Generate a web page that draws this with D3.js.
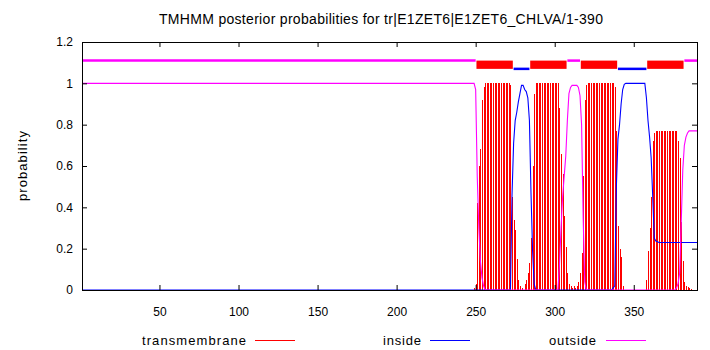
<!DOCTYPE html>
<html>
<head>
<meta charset="utf-8">
<script src="https://cdn.jsdelivr.net/npm/d3@7"></script>
<style>
  body { margin: 0; background: #fff; }
  text { font-family: "Liberation Sans", Arial, sans-serif; fill: #000; }
</style>
</head>
<body>
<svg id="chart" width="710" height="350">
  <g id="bars"></g>
  <g id="lines"></g>
  <g id="topology"></g>
  <g id="frame"></g>
  <g id="labels"></g>
  <g id="legend"></g>
</svg>
<script>
const title = "TMHMM posterior probabilities for tr|E1ZET6|E1ZET6_CHLVA/1-390"
const seqRange = [1, 390]
const xTicks = [50, 100, 150, 200, 250, 300, 350]
const yTicks = [0, 0.2, 0.4, 0.6, 0.8, 1, 1.2]

// residues 1..245 are flat (outside = 1, inside = 0, tm = 0)
const leadOutside = 1
const leadInside = 0
const firstRes = 246

// per residue, 246 .. 390
const outsideProb = [
  1, 1, 1, 1, 0.97, 0.55, 0.3, 0.14, 0.06, 0.02,
  0, 0, 0, 0, 0, 0, 0, 0, 0, 0,
  0, 0, 0, 0, 0, 0, 0, 0, 0, 0,
  0, 0, 0, 0, 0, 0, 0, 0, 0, 0,
  0, 0, 0, 0, 0, 0, 0, 0, 0, 0,
  0, 0, 0, 0, 0, 0, 0, 0.12, 0.3, 0.45,
  0.55, 0.65, 0.82, 0.95, 0.98, 0.99, 0.99, 0.99, 0.99, 0.98,
  0.94, 0.8, 0.35, 0.04, 0, 0, 0, 0, 0, 0,
  0, 0, 0, 0, 0, 0, 0, 0, 0, 0,
  0, 0, 0, 0, 0, 0, 0, 0, 0, 0,
  0, 0, 0, 0, 0, 0, 0, 0, 0, 0,
  0, 0, 0, 0, 0, 0, 0, 0, 0, 0,
  0, 0, 0, 0, 0, 0, 0, 0, 0, 0,
  0, 0.01, 0.03, 0.08, 0.32, 0.58, 0.7, 0.74, 0.76, 0.77,
  0.77, 0.77, 0.77, 0.77, 0.77
]

const insideProb = [
  0, 0, 0, 0, 0, 0, 0, 0, 0, 0,
  0, 0, 0, 0, 0, 0, 0, 0, 0, 0,
  0, 0, 0, 0, 0, 0, 0, 0.46, 0.71, 0.82,
  0.86, 0.91, 0.95, 0.99, 0.99, 0.97, 0.96, 0.93, 0.82, 0.47,
  0.19, 0.03, 0, 0, 0, 0, 0, 0, 0, 0,
  0, 0, 0, 0, 0, 0, 0, 0, 0, 0,
  0, 0, 0, 0, 0, 0, 0, 0, 0, 0,
  0, 0, 0, 0, 0, 0, 0, 0, 0, 0,
  0, 0, 0, 0, 0, 0, 0, 0, 0, 0,
  0, 0.01, 0.02, 0.5, 0.73, 0.8, 0.9, 0.97, 0.995, 1,
  1, 1, 1, 1, 1, 1, 1, 1, 1, 1,
  1, 1, 0.93, 0.82, 0.74, 0.64, 0.45, 0.25, 0.237, 0.233,
  0.23, 0.23, 0.23, 0.23, 0.23, 0.23, 0.23, 0.23, 0.23, 0.23,
  0.23, 0.23, 0.23, 0.23, 0.23, 0.23, 0.23, 0.23, 0.23, 0.23,
  0.23, 0.23, 0.23, 0.23, 0.23
]

const tmProb = [
  0, 0, 0, 0.01, 0.03, 0.42, 0.6, 0.68, 0.92, 0.98,
  1, 1, 1, 1, 1, 1, 1, 1, 1, 1,
  1, 1, 1, 1, 1, 1, 0.99, 0.45, 0.34, 0.29,
  0.15, 0.05, 0.02, 0.01, 0, 0.03, 0.05, 0.08, 0.13, 0.25,
  0.6, 0.95, 1, 1, 1, 1, 1, 1, 1, 1,
  1, 1, 1, 1, 1, 1, 1, 0.88, 0.66, 0.56,
  0.36, 0.21, 0.08, 0.03, 0.02, 0.01, 0.02, 0.01, 0.02, 0.04,
  0.08, 0.18, 0.55, 0.92, 0.99, 1, 1, 1, 1, 1,
  1, 1, 1, 1, 1, 1, 1, 1, 1, 1,
  1, 1, 0.98, 0.77, 0.31, 0.2, 0.16, 0.02, 0, 0,
  0, 0, 0, 0, 0, 0, 0, 0, 0, 0,
  0, 0, 0.05, 0.19, 0.3, 0.45, 0.72, 0.76, 0.77, 0.77,
  0.77, 0.77, 0.77, 0.77, 0.77, 0.77, 0.77, 0.77, 0.77, 0.77,
  0.77, 0.77, 0.72, 0.64, 0.33, 0.14, 0.04, 0.02, 0.015, 0.01,
  0.005, 0, 0, 0, 0
]

// predicted topology shown above the curves
const topoType = ["outside", "TMhelix", "inside", "TMhelix", "outside", "TMhelix", "inside", "TMhelix", "outside"]
const topoStart = [1, 251, 274, 285, 308, 317, 340, 359, 382]
const topoEnd = [250, 273, 284, 307, 316, 339, 358, 381, 390]
const topoLevel = {outside: 1.11, inside: 1.07}

const legendNames = ["transmembrane", "inside", "outside"]
const colors = {transmembrane: "#ff0000", TMhelix: "#ff0000", inside: "#0000ff", outside: "#ff00ff"}

function make_scales(margin) {
  return {
    x: d3.scaleLinear()
      .domain(seqRange)
      .range([margin.left, 710 - margin.right]),
    y: d3.scaleLinear()
      .domain([0, 1.2])
      .range([350 - margin.bottom, margin.top])
  }
}

function to_points(lead, values) {
  let pts = [[seqRange[0], lead]]
  for (let i = 0; i < values.length; i++) {
    pts.push([firstRes + i, values[i]])
  }
  return pts
}

function draw_bars(scales) {
  // 1px impulses snapped to the pixel grid, like the gnuplot png
  let px = d => Math.round(scales.x(d[0])) + 0.5
  d3.select("#bars")
    .selectAll("line")
    .data(tmProb.map((v, i) => [firstRes + i, v]).filter(d => d[1] > 0))
    .enter()
    .append("line")
    .attr("x1", px)
    .attr("x2", px)
    .attr("y1", scales.y(0))
    .attr("y2", d => Math.round(scales.y(d[1])))
    .attr("stroke", colors.transmembrane)
    .attr("stroke-width", 1)
    .attr("shape-rendering", "crispEdges")
}

function draw_lines(scales) {
  let path_generator = d3.line()
    .x(d => scales.x(d[0]))
    .y(d => scales.y(d[1]))

  let series = [
    {name: "inside", pts: to_points(leadInside, insideProb)},
    {name: "outside", pts: to_points(leadOutside, outsideProb)}
  ]

  d3.select("#lines")
    .selectAll("path")
    .data(series).enter()
    .append("path")
    .attr("d", d => path_generator(d.pts))
    .attr("fill", "none")
    .attr("stroke", d => colors[d.name])
    .attr("stroke-width", 1.1)
}

function draw_topology(scales) {
  let segs = topoType.map((t, i) => ({type: t, start: topoStart[i], end: topoEnd[i]}))
  let g = d3.select("#topology")

  g.selectAll("rect")
    .data(segs.filter(d => d.type == "TMhelix")).enter()
    .append("rect")
    .attr("x", d => scales.x(d.start - 0.5))
    .attr("width", d => scales.x(d.end + 0.5) - scales.x(d.start - 0.5))
    .attr("y", scales.y(topoLevel.outside))
    .attr("height", scales.y(topoLevel.inside) - scales.y(topoLevel.outside))
    .attr("fill", colors.TMhelix)

  g.selectAll("line")
    .data(segs.filter(d => d.type != "TMhelix")).enter()
    .append("line")
    .attr("x1", d => scales.x(d.start))
    .attr("x2", d => scales.x(d.end))
    .attr("y1", d => scales.y(topoLevel[d.type]))
    .attr("y2", d => scales.y(topoLevel[d.type]))
    .attr("stroke", d => colors[d.type])
    .attr("stroke-width", 2.5)
}

function draw_axes(scales, margin) {
  let frame = d3.select("#frame")
  let bottom = 350 - margin.bottom
  let right = 710 - margin.right

  frame.append("g")
    .attr("transform", `translate(0, ${bottom})`)
    .call(d3.axisBottom(scales.x).tickValues(xTicks).tickSizeInner(-5).tickSizeOuter(0).tickPadding(17))
  frame.append("g")
    .attr("transform", `translate(0, ${margin.top})`)
    .call(d3.axisTop(scales.x).tickValues(xTicks).tickSizeInner(-5).tickSizeOuter(0).tickFormat(""))
  frame.append("g")
    .attr("transform", `translate(${margin.left}, 0)`)
    .call(d3.axisLeft(scales.y).tickValues(yTicks).tickSizeInner(-5).tickSizeOuter(0).tickPadding(9)
      .tickFormat(d3.format("~g")))
  frame.append("g")
    .attr("transform", `translate(${right}, 0)`)
    .call(d3.axisRight(scales.y).tickValues(yTicks).tickSizeInner(-5).tickSizeOuter(0).tickFormat(""))

  frame.selectAll(".domain").remove()
  frame.selectAll(".tick line").attr("stroke", "#000")
  frame.selectAll(".tick text")
    .attr("font-size", 12)
    .attr("font-family", null)

  frame.append("rect")
    .attr("x", margin.left + 0.5)
    .attr("y", margin.top + 0.5)
    .attr("width", right - margin.left)
    .attr("height", bottom - margin.top)
    .attr("fill", "none")
    .attr("stroke", "#000")
}

function draw_labels() {
  let g = d3.select("#labels")
  g.append("text")
    .attr("x", 159)
    .attr("y", 24)
    .attr("font-size", 14)
    .attr("textLength", 444)
    .attr("lengthAdjust", "spacing")
    .text(title)

  g.append("text")
    .attr("transform", "translate(27, 166) rotate(-90)")
    .attr("text-anchor", "middle")
    .attr("font-size", 13)
    .attr("textLength", 70)
    .attr("lengthAdjust", "spacing")
    .text("probability")
}

function draw_legend() {
  let layout = [
    {textEnd: 246, width: 104, lineX: 255},
    {textEnd: 421, width: 38, lineX: 430},
    {textEnd: 596, width: 47, lineX: 606}
  ]
  let g = d3.select("#legend")
  legendNames.forEach((name, i) => {
    let l = layout[i]
    g.append("text")
      .attr("x", l.textEnd - l.width)
      .attr("y", 345)
      .attr("font-size", 13)
      .attr("textLength", l.width)
      .attr("lengthAdjust", "spacing")
      .text(name)
    g.append("line")
      .attr("x1", l.lineX)
      .attr("x2", l.lineX + 40)
      .attr("y1", 340.5)
      .attr("y2", 340.5)
      .attr("stroke", colors[name])
      .attr("stroke-width", 1)
  })
}

function visualize() {
  let margin = {top: 42, right: 13, bottom: 60, left: 82}
  let scales = make_scales(margin)
  draw_bars(scales)
  draw_lines(scales)
  draw_topology(scales)
  draw_axes(scales, margin)
  draw_labels()
  draw_legend()
}

visualize()
</script>
</body>
</html>
